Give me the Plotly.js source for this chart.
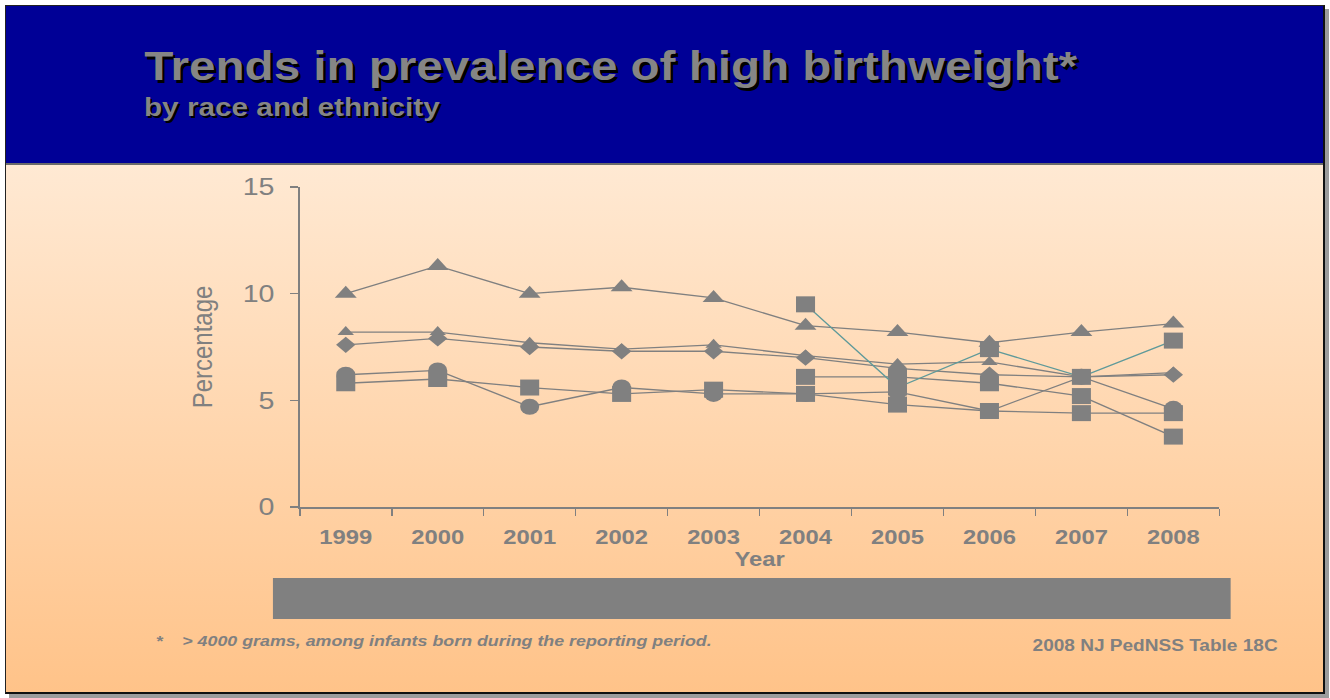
<!DOCTYPE html>
<html>
<head>
<meta charset="utf-8">
<script src="https://cdn.plot.ly/plotly-3.0.1.min.js"></script>
<style>
html,body{margin:0;padding:0;background:#ffffff;width:1330px;height:698px;overflow:hidden;}
#slide{position:absolute;left:5px;top:5px;width:1317px;height:686px;
  border-left:1px solid #222;border-top:1px solid #222;border-right:2px solid #111;border-bottom:2px solid #111;
  background:linear-gradient(to bottom,#FFEBD7 0px,#FFE9D3 160px,#FFC389 100%);
  box-shadow:4px 4px 0 #9c9c9c;}
#header{position:absolute;left:0;top:0;width:100%;height:157px;background:#000096;border-bottom:2px solid #6a6a6a;}
#chart{position:absolute;left:0;top:0;width:1118px;height:698px;transform:scaleX(1.1896);transform-origin:0 0;}
</style>
</head>
<body>
<div id="slide"><div id="header"></div></div>
<div id="chart"></div>
<script>
// ---- data ----
const years = ['1999','2000','2001','2002','2003','2004','2005','2006','2007','2008'];
const seriesBigTriangle   = [10.0, 11.3, 10.0, 10.3, 9.8, 8.5, 8.2, 7.7, 8.2, 8.6];
const seriesSmallTriangle = [8.2, 8.2, 7.7, 7.4, 7.6, 7.1, 6.7, 6.8, 6.1, 6.3];
const seriesDiamond       = [7.6, 7.9, 7.5, 7.3, 7.3, 7.0, 6.5, 6.2, 6.1, 6.2];
const seriesCircle        = [6.2, 6.4, 4.7, 5.6, 5.3, 5.3, 5.4, 4.5, 6.1, 4.6];
const seriesSquare        = [5.8, 6.0, 5.6, 5.3, 5.5, 5.3, 4.8, 4.5, 4.4, 4.4];
const seriesSquareB       = [null, null, null, null, null, 6.1, 6.1, 5.8, 5.2, 3.3];
const seriesSquareTeal    = [null, null, null, null, null, 9.5, 5.6, 7.4, 6.1, 7.8];
const yTicks = [0, 5, 10, 15];

const titleText = 'Trends in prevalence of high birthweight*';
const subtitleText = 'by race and ethnicity';
const footnoteStar = '*';
const footnoteText = '> 4000 grams, among infants born during the reporting period.';
const sourceText = '2008 NJ PedNSS Table 18C';

const GREY = '#808080';
const FONT = 'Liberation Sans, Arial, Helvetica, sans-serif';

function tr(name, y, symbol, size, lineColor) {
  return {
    type: 'scatter', mode: 'lines+markers', name: name, x: years, y: y,
    connectgaps: false, cliponaxis: false,
    line: {color: lineColor || GREY, width: 1.3},
    marker: {symbol: symbol, size: size, color: GREY, line: {width: 0}}
  };
}

const data = [
  tr('Series 1', seriesBigTriangle, 'triangle-up', 16),
  tr('Series 3', seriesDiamond, 'diamond', 12.5),
  tr('Series 2', seriesSmallTriangle, 'triangle-up', 12),
  tr('Series 4', seriesCircle, 'circle', 16),
  tr('Series 5', seriesSquare, 'square', 16),
  tr('Series 6', seriesSquareB, 'square', 16),
  tr('Series 7', seriesSquareTeal, 'square', 16, '#5f9a9a')
];

function ann(text, x, y, font, opts) {
  return Object.assign({
    text: text, x: x, y: y, xref: 'paper', yref: 'paper', showarrow: false,
    xanchor: 'left', yanchor: 'middle',
    font: Object.assign({family: FONT, color: GREY, weight: 'bold'}, font)
  }, opts || {});
}

const layout = {
  width: 1118, height: 698,
  margin: {l: 252, r: 93, t: 187, b: 191, pad: 0},
  paper_bgcolor: 'rgba(0,0,0,0)', plot_bgcolor: 'rgba(0,0,0,0)',
  showlegend: false,
  font: {family: FONT, color: GREY},
  xaxis: {
    type: 'category', range: [-0.5, 9.5], tickson: 'boundaries',
    ticks: 'outside', ticklen: 7, tickwidth: 1.3, tickcolor: GREY,
    showline: true, linecolor: GREY, linewidth: 1.5, showgrid: false, zeroline: false,
    ticklabelstandoff: 12,
    tickfont: {family: FONT, size: 20, color: GREY, weight: 'bold'},
    title: {text: 'Year', font: {family: FONT, size: 20, color: GREY, weight: 'bold'}, standoff: 2}
  },
  yaxis: {
    range: [0, 15], tickvals: yTicks, ticktext: yTicks.map(String),
    ticks: 'outside', ticklen: 7, tickwidth: 1.3, tickcolor: GREY,
    showline: true, linecolor: GREY, linewidth: 1.5, showgrid: false, zeroline: false,
    tickfont: {family: FONT, size: 24, color: GREY},
    ticklabelstandoff: 8,
    title: {text: 'Percentage', font: {family: FONT, size: 24, color: GREY}, standoff: 18}
  },
  shapes: [
    {type: 'rect', xref: 'paper', yref: 'paper', x0: -0.0292, x1: 1.0123, y0: -0.222, y1: -0.35,
     fillcolor: GREY, line: {width: 0}}
  ],
  annotations: [
    ann(titleText, -0.1715, 1.377, {size: 40, color: '#858585', shadow: '2.5px 3px 0px #000000'}),
    ann(subtitleText, -0.1715, 1.25, {size: 25, color: '#858585', shadow: '2px 2.5px 0px #000000'}),
    ann(footnoteStar, -0.1596, -0.416, {size: 15, style: 'italic'}),
    ann(footnoteText, -0.1303, -0.416, {size: 15, style: 'italic'}),
    ann(sourceText, 1.0666, -0.434, {size: 16}, {xanchor: 'right'})
  ]
};

Plotly.newPlot('chart', data, layout, {staticPlot: true, displayModeBar: false});
</script>
</body>
</html>
